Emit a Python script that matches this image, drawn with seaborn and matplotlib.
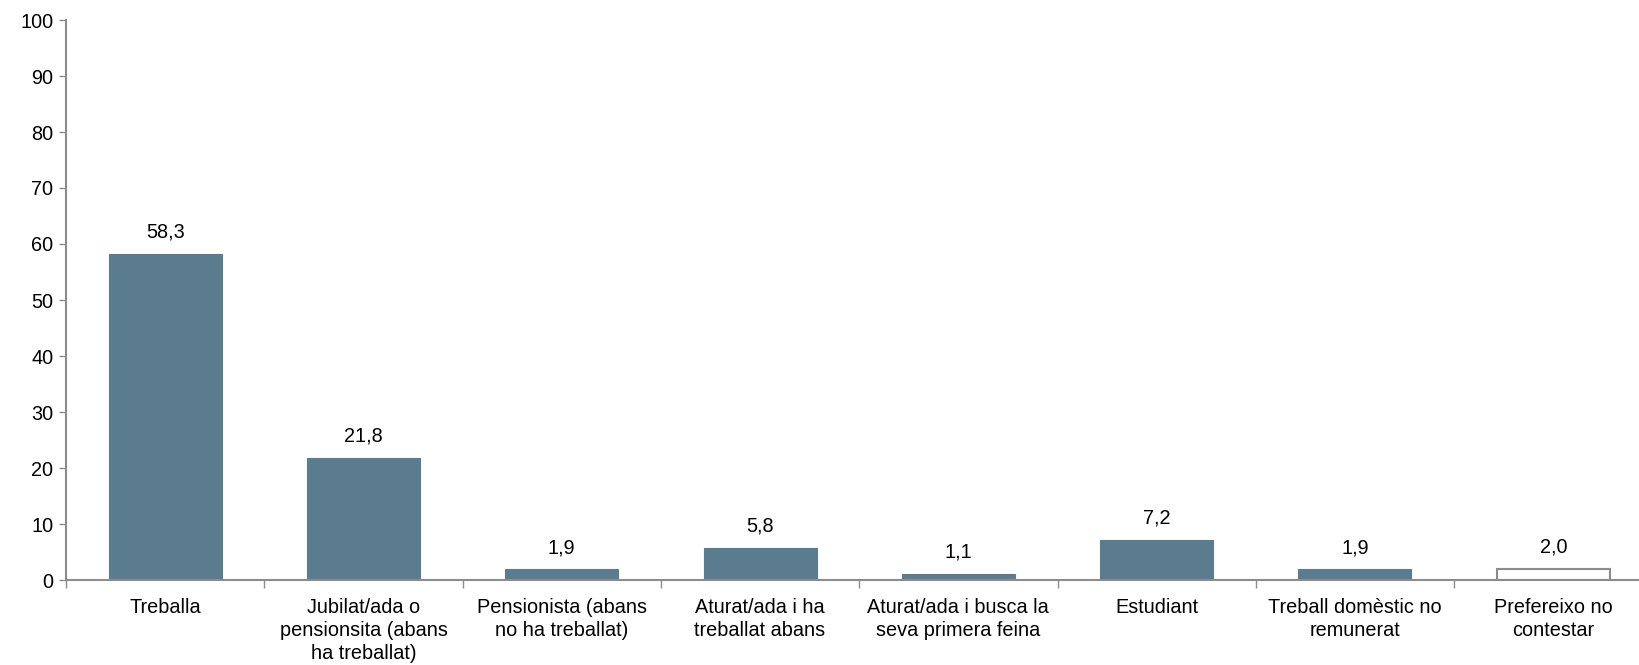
import numpy as np
import matplotlib
matplotlib.use("Agg")
import matplotlib.pyplot as plt
import seaborn as sns
import pandas as pd

# Data
categories = [
    "Treballa",
    "Jubilat/ada o\npensionsita (abans\nha treballat)",
    "Pensionista (abans\nno ha treballat)",
    "Aturat/ada i ha\ntreballat abans",
    "Aturat/ada i busca la\nseva primera feina",
    "Estudiant",
    "Treball domèstic no\nremunerat",
    "Prefereixo no\ncontestar",
]
values = [58.3, 21.8, 1.9, 5.8, 1.1, 7.2, 1.9, 2.0]
labels = ["58,3", "21,8", "1,9", "5,8", "1,1", "7,2", "1,9", "2,0"]

df = pd.DataFrame({"cat": categories, "val": values})

sns.set_style("white")
plt.rcParams["font.family"] = ["Liberation Sans", "DejaVu Sans"]

W, H = 1639, 665
fs = 14.3
fig = plt.figure(figsize=(W / 100, H / 100), dpi=100)
left, bottom, top = 66, 85, 20
step = 198.3
ax = fig.add_axes([left / W, bottom / H, 8 * step / W, (H - bottom - top) / H])

bar_col = "#5B7B8E"
edge_grey = "#8C8C8C"
sns.barplot(data=df, x="cat", y="val", ax=ax, color=bar_col, width=0.57,
            saturation=1, edgecolor=bar_col, linewidth=0.8)

# last bar: white with grey outline
last = ax.patches[-1]
last.set_facecolor("white")
last.set_edgecolor(edge_grey)
last.set_linewidth(1.5)

for i, (v, t) in enumerate(zip(values, labels)):
    ax.text(i, v + 2.2, t, ha="center", va="bottom", fontsize=fs, color="black")

ax.set_xlim(-0.5, 7.5)
ax.set_ylim(0, 100)
ax.set_yticks(np.arange(0, 101, 10))
ax.tick_params(axis="y", labelsize=fs, labelcolor="black", length=5, width=1,
               color=edge_grey, direction="out", pad=4, left=True)

# x ticks at category boundaries, labels centred under bars
ax.set_xticks(np.arange(-0.5, 8, 1.0))
ax.set_xticklabels([])
ax.set_xticks(np.arange(8), minor=True)
ax.set_xticklabels(categories, minor=True, fontsize=fs, linespacing=1.25, color="black")
ax.tick_params(axis="x", which="major", length=6, width=1, color=edge_grey,
               direction="out", bottom=True)
ax.tick_params(axis="x", which="minor", length=0, pad=13)

ax.set_xlabel("")
ax.set_ylabel("")
for s in ["top", "right"]:
    ax.spines[s].set_visible(False)
for s in ["left", "bottom"]:
    ax.spines[s].set_color(edge_grey)
    ax.spines[s].set_linewidth(1.5)

fig.savefig("out.png", dpi=100)
